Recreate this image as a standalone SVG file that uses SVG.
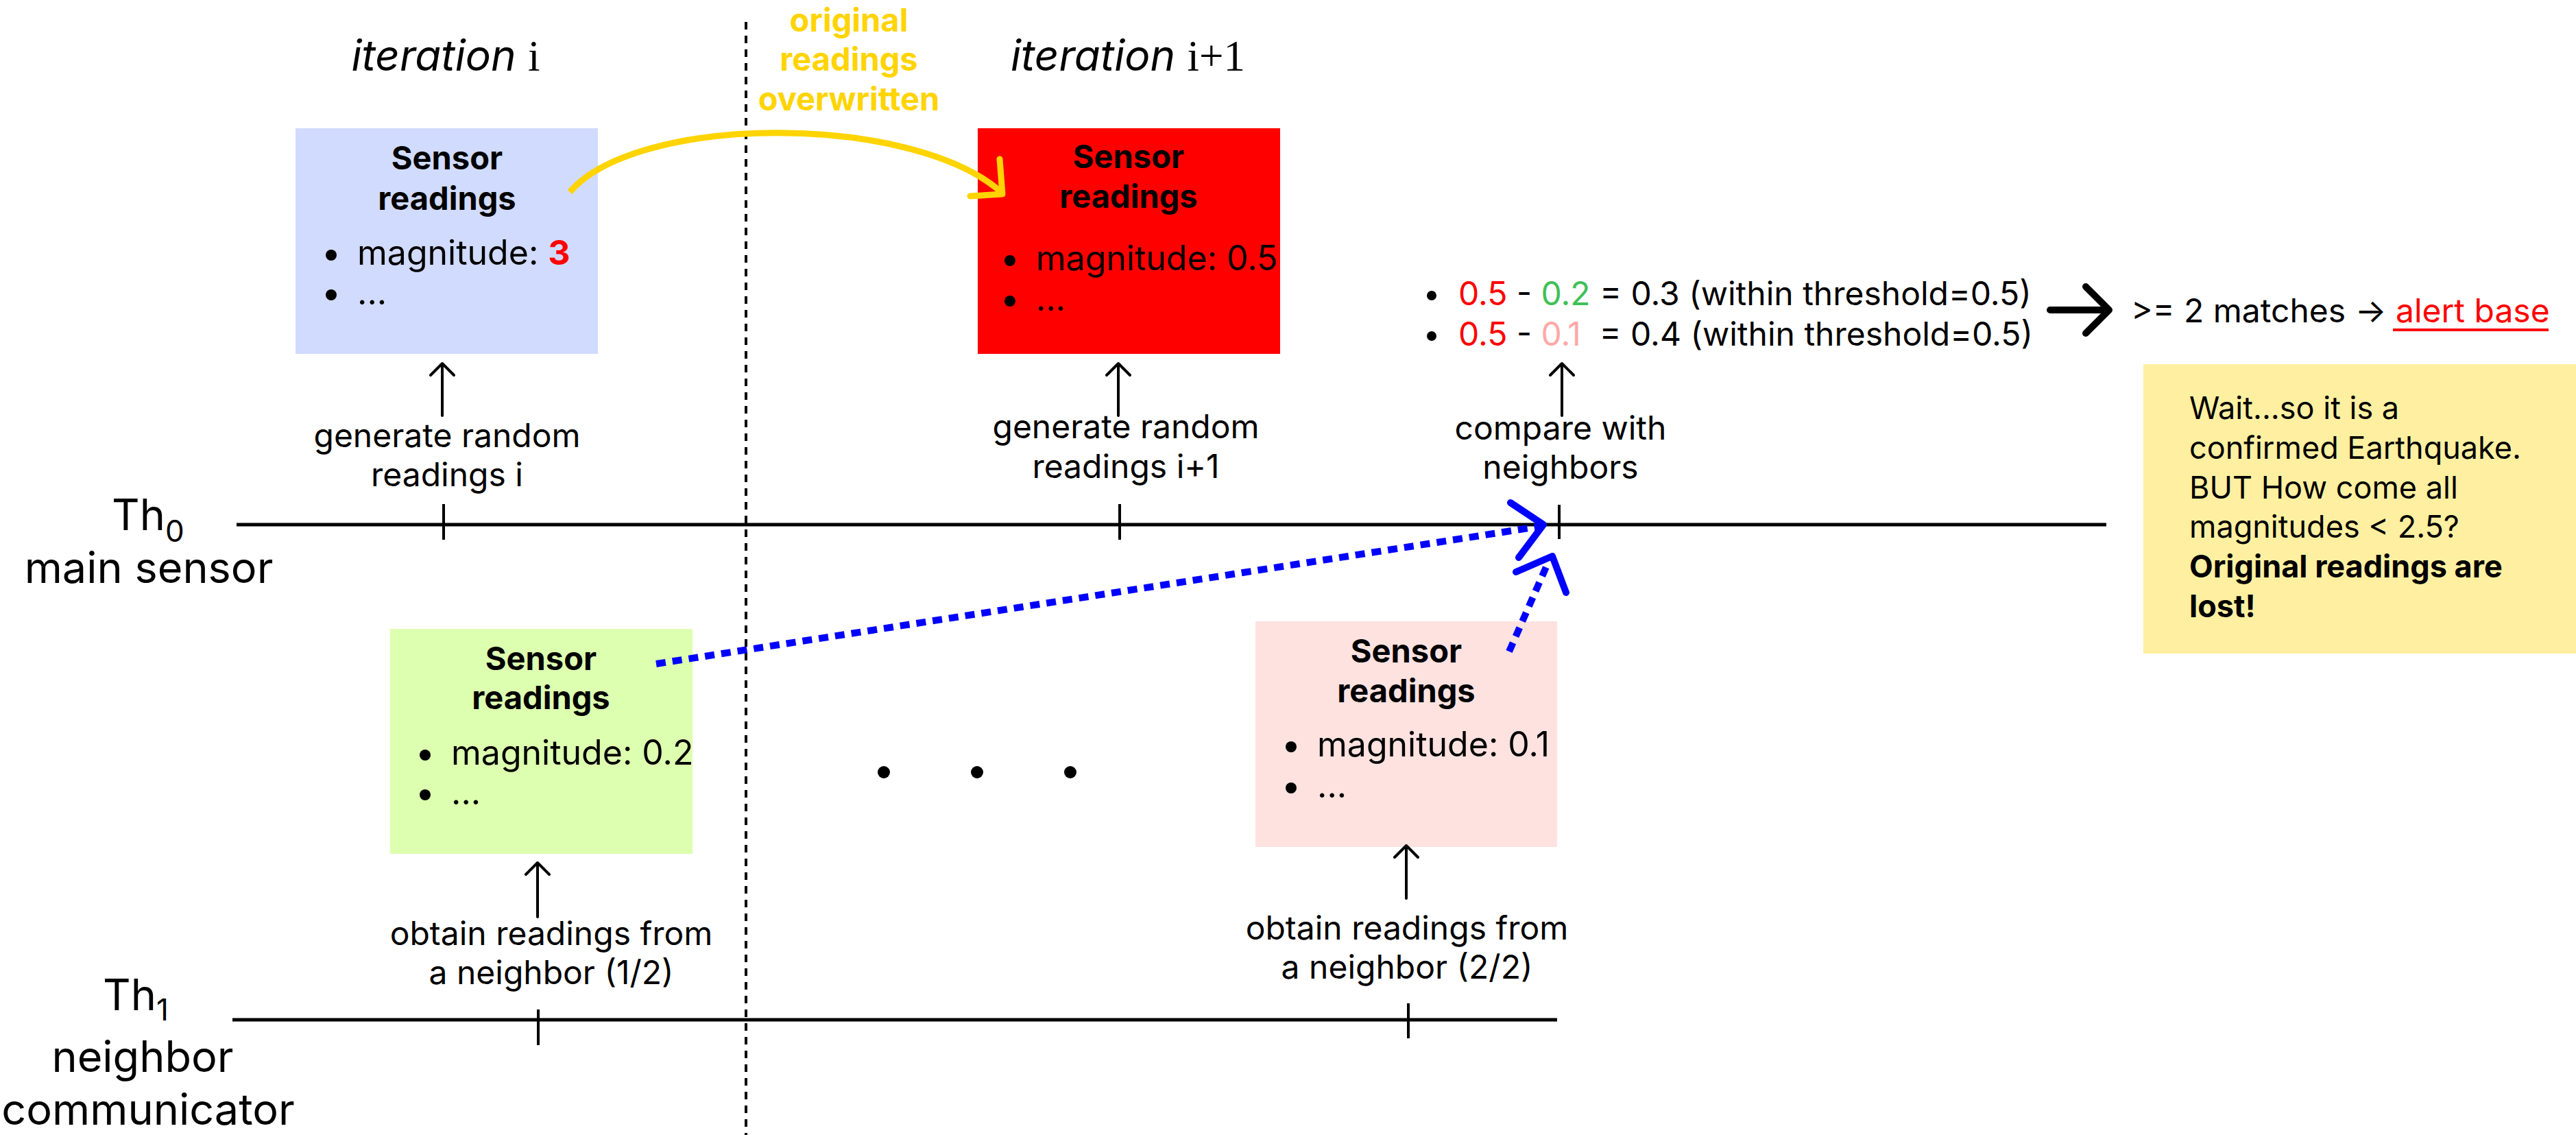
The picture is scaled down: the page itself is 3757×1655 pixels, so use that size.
<svg xmlns="http://www.w3.org/2000/svg" width="3757" height="1655" viewBox="0 0 3757 1655">
<style>
text{font-family:Inter,"Noto Sans","Liberation Sans",sans-serif;fill:#000}
.lbl{font-size:48px;text-anchor:middle}
.ttl{font-size:47px;font-weight:bold;text-anchor:middle}
.itm{font-size:50px}
.th{font-size:63px}
.it{font-size:62px;text-anchor:middle}
.ser{font-family:"Liberation Serif","DejaVu Serif",serif;font-size:63px;font-style:normal}
.cmp{font-size:48px}
.note{font-size:45px}
.yel{font-size:47px;font-weight:bold;text-anchor:middle;fill:#ffd400}
.thin{stroke:#000;stroke-width:4;fill:none;stroke-linecap:round;stroke-linejoin:round}
.tick{stroke:#000;stroke-width:4;fill:none}
.tl{stroke:#000;stroke-width:5;fill:none}
.blue{stroke:#0000ff;stroke-width:10;fill:none}
</style>
<rect width="3757" height="1655" fill="#fff"/>
<g id="headers">
<text class="it" x="650" y="103"><tspan font-style="italic">iteration</tspan> <tspan class="ser">i</tspan></text>
<text class="it" x="1645" y="103"><tspan font-style="italic">iteration</tspan> <tspan class="ser">i+1</tspan></text>
<text class="yel" x="1238" y="46">original</text>
<text class="yel" x="1238" y="103">readings</text>
<text class="yel" x="1238" y="161">overwritten</text>
</g>
<g id="divider">
<line x1="1088" y1="32" x2="1088" y2="1655" stroke="#000" stroke-width="4" stroke-dasharray="11 9"/>
</g>
<g id="timelines">
<line class="tl" x1="345" y1="765" x2="3072" y2="765"/>
<line class="tl" x1="339" y1="1487" x2="2271" y2="1487"/>
<line class="tick" x1="647" y1="735" x2="647" y2="787"/>
<line class="tick" x1="1633" y1="735" x2="1633" y2="787"/>
<line class="tick" x1="2274" y1="736" x2="2274" y2="786"/>
<line class="tick" x1="785" y1="1472" x2="785" y2="1524"/>
<line class="tick" x1="2054" y1="1463" x2="2054" y2="1514"/>
<text class="th" x="163" y="773">Th<tspan font-size="44" dy="17">0</tspan></text>
<text class="th" x="217" y="850" text-anchor="middle">main sensor</text>
<text class="th" x="150" y="1473">Th<tspan font-size="44" dy="15">1</tspan></text>
<text class="th" x="208" y="1563" text-anchor="middle">neighbor</text>
<text class="th" x="216" y="1640" text-anchor="middle">communicator</text>
</g>
<g id="node-blue">
<rect x="431" y="187" width="441" height="329" fill="#d1dbfd"/>
<text class="ttl" x="652" y="247">Sensor</text>
<text class="ttl" x="652" y="306">readings</text>
<circle cx="483" cy="372" r="8"/><text class="itm" x="521" y="386">magnitude: <tspan font-weight="bold" style="fill:#ff0000">3</tspan></text>
<circle cx="483" cy="430" r="8"/><text class="itm" x="521" y="444">...</text>
</g>
<g id="node-red">
<rect x="1426" y="187" width="441" height="329" fill="#ff0000"/>
<text class="ttl" x="1646" y="245">Sensor</text>
<text class="ttl" x="1646" y="303">readings</text>
<circle cx="1473" cy="380" r="8"/><text class="itm" x="1511" y="394">magnitude: 0.5</text>
<circle cx="1473" cy="439" r="8"/><text class="itm" x="1511" y="453">...</text>
</g>
<g id="node-green">
<rect x="569" y="917" width="441" height="328" fill="#ddffb0"/>
<text class="ttl" x="789" y="977">Sensor</text>
<text class="ttl" x="789" y="1034">readings</text>
<circle cx="620" cy="1101" r="8"/><text class="itm" x="658" y="1115">magnitude: 0.2</text>
<circle cx="620" cy="1159" r="8"/><text class="itm" x="658" y="1173">...</text>
</g>
<g id="node-pink">
<rect x="1831" y="906" width="440" height="329" fill="#fde2e0"/>
<text class="ttl" x="2051" y="966">Sensor</text>
<text class="ttl" x="2051" y="1024">readings</text>
<circle cx="1883" cy="1089" r="8"/><text class="itm" x="1921" y="1103">magnitude: 0.1</text>
<circle cx="1883" cy="1149" r="8"/><text class="itm" x="1921" y="1163">...</text>
</g>
<g id="ellipsis">
<circle cx="1289" cy="1126" r="9"/>
<circle cx="1425" cy="1126" r="9"/>
<circle cx="1561" cy="1126" r="9"/>
</g>
<g id="labels">
<text class="lbl" x="652" y="652">generate random</text>
<text class="lbl" x="652" y="709">readings i</text>
<text class="lbl" x="1642" y="639">generate random</text>
<text class="lbl" x="1642" y="697">readings i+1</text>
<text class="lbl" x="2276" y="641">compare with</text>
<text class="lbl" x="2276" y="698">neighbors</text>
<text class="lbl" x="804" y="1378">obtain readings from</text>
<text class="lbl" x="804" y="1435">a neighbor (1/2)</text>
<text class="lbl" x="2052" y="1370">obtain readings from</text>
<text class="lbl" x="2052" y="1427">a neighbor (2/2)</text>
</g>
<g id="comparison">
<circle cx="2088" cy="431" r="7"/>
<text class="cmp" x="2127" y="445"><tspan style="fill:#ff0000">0.5</tspan> - <tspan style="fill:#40c057">0.2</tspan> = 0.3 (within threshold=0.5)</text>
<circle cx="2088" cy="490" r="7"/>
<text class="cmp" x="2127" y="504"><tspan style="fill:#ff0000">0.5</tspan> - <tspan style="fill:#ffa8a8">0.1</tspan> &#160;= 0.4 (within threshold=0.5)</text>
<text class="cmp" x="3108" y="470">&gt;= 2 matches → <tspan style="fill:#ff0000">alert base</tspan></text>
<line x1="3490" y1="481" x2="3717" y2="481" stroke="#ff0000" stroke-width="4"/>
</g>
<g id="note">
<rect x="3126" y="531" width="631" height="422" fill="#fff0a1"/>
<text class="note" x="3193" y="611">Wait...so it is a</text>
<text class="note" x="3193" y="669">confirmed Earthquake.</text>
<text class="note" x="3193" y="727">BUT How come all</text>
<text class="note" x="3193" y="784">magnitudes &lt; 2.5?</text>
<text class="note" x="3193" y="842" font-weight="bold">Original readings are</text>
<text class="note" x="3193" y="900" font-weight="bold">lost!</text>
</g>
<g id="connectors">
<path class="thin" d="M645 606 V530 M628 547 L645 530 L662 547"/>
<path class="thin" d="M1631 606 V530 M1614 547 L1631 530 L1648 547"/>
<path class="thin" d="M2278 606 V530 M2261 547 L2278 530 L2295 547"/>
<path class="thin" d="M784 1337 V1258 M767 1275 L784 1258 L801 1275"/>
<path class="thin" d="M2051 1310 V1233 M2034 1250 L2051 1233 L2068 1250"/>
<path d="M831 280 C930 165 1330 165 1460 280" fill="none" stroke="#ffd400" stroke-width="9"/>
<path d="M1458 232 L1462 283 L1415 286" fill="none" stroke="#ffd400" stroke-width="9" stroke-linecap="round" stroke-linejoin="round"/>
<path class="blue" d="M957 968 L2243 768" stroke-dasharray="14 10"/>
<path class="blue" d="M2203 733 L2251 765 L2215 813" stroke-linecap="round" stroke-linejoin="round"/>
<path class="blue" d="M2201 950 L2258 820" stroke-dasharray="14 10"/>
<path class="blue" d="M2211 834 L2264 811 L2284 864" stroke-linecap="round" stroke-linejoin="round"/>
<path d="M2990 452 H3072 M3042 418 L3076 452 L3042 486" fill="none" stroke="#000" stroke-width="10" stroke-linejoin="round" stroke-linecap="round"/>
</g>
</svg>
